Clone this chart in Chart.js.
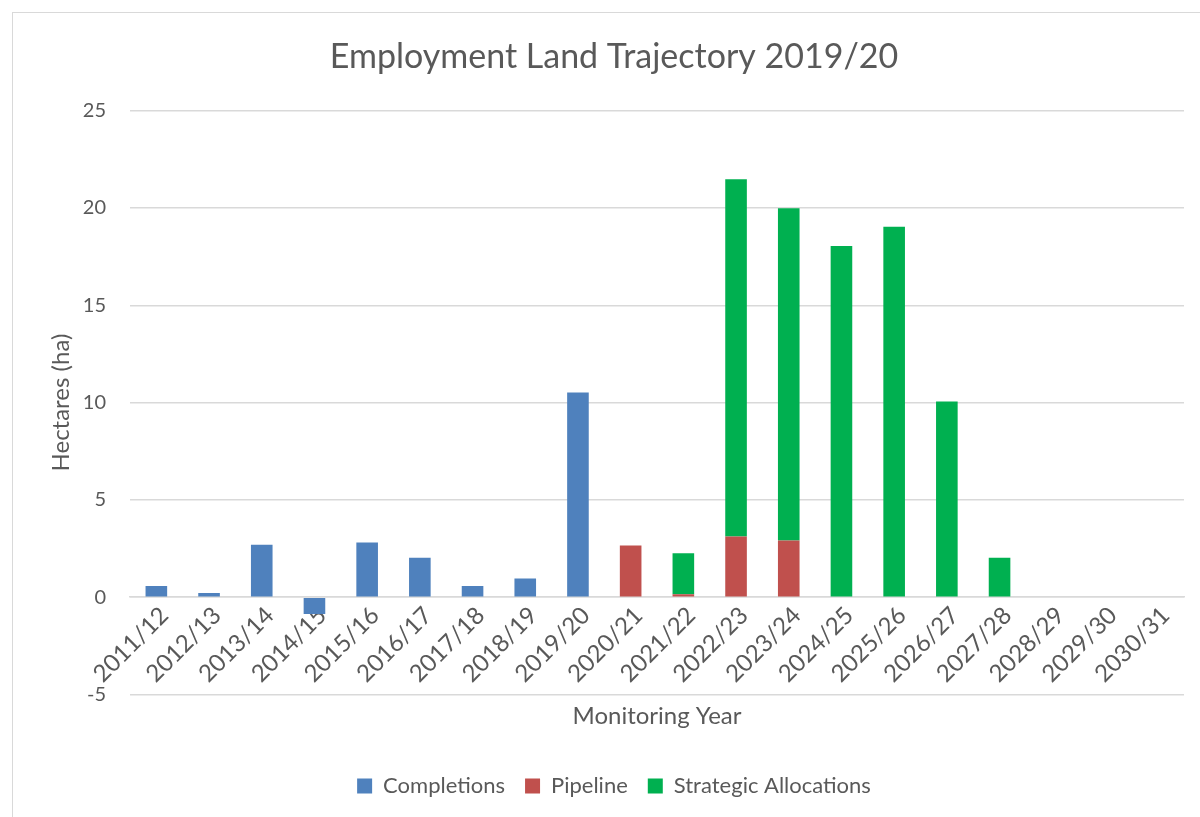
<!DOCTYPE html>
<html>
<head>
<meta charset="utf-8">
<script src="https://cdn.jsdelivr.net/npm/chart.js@4.4.1/dist/chart.umd.min.js"></script>
<style>
  html, body { margin: 0; padding: 0; background: #fff; overflow: hidden; width: 1200px; height: 817px; }
  #frame { position: absolute; left: 12px; top: 12px; width: 1204px; height: 820px; border: 1px solid #d9d9d9; background: #fff; box-sizing: border-box; }
  #wrap { position: absolute; left: 12px; top: 12px; width: 1204px; height: 815px; }
</style>
</head>
<body>
<div id="frame"></div>
<div id="wrap"><canvas id="c" width="1204" height="815"></canvas></div>
<script>
const categories = ['2011/12','2012/13','2013/14','2014/15','2015/16','2016/17','2017/18','2018/19','2019/20','2020/21','2021/22','2022/23','2023/24','2024/25','2025/26','2026/27','2027/28','2028/29','2029/30','2030/31'];
const completions = [0.57, 0.22, 2.69, -0.86, 2.81, 2.03, 0.57, 0.96, 10.52, null, null, null, null, null, null, null, null, null, null, null];
const pipeline = [null, null, null, null, null, null, null, null, null, 2.66, 0.15, 3.12, 2.92, null, null, null, null, null, null, null];
const strategicAllocations = [null, null, null, null, null, null, null, null, null, null, 2.11, 18.36, 17.07, 18.05, 19.04, 10.06, 2.03, null, null, null];
const yTicks = [-5, 0, 5, 10, 15, 20, 25];

const FONT = 'Lato, "Open Sans", sans-serif';
const TXT = '#595959';

const xTitlePlugin = {
  id: 'xTitle',
  afterDraw(chart) {
    const ctx = chart.ctx, a = chart.chartArea;
    ctx.save();
    ctx.font = '24px ' + FONT;
    ctx.fillStyle = TXT;
    ctx.textAlign = 'center';
    ctx.textBaseline = 'middle';
    ctx.fillText('Monitoring Year', (a.left + a.right) / 2, a.bottom + 22);
    ctx.restore();
  }
};

new Chart(document.getElementById('c'), {
  type: 'bar',
  data: {
    labels: categories,
    datasets: [
      { label: 'Completions', data: completions, backgroundColor: '#4f81bd' },
      { label: 'Pipeline', data: pipeline, backgroundColor: '#c0504d' },
      { label: 'Strategic Allocations', data: strategicAllocations, backgroundColor: '#00b050' }
    ]
  },
  options: {
    responsive: false,
    animation: false,
    devicePixelRatio: 1,
    layout: { padding: { left: 0, right: 0, top: 0, bottom: 20 } },
    datasets: { bar: { categoryPercentage: 1.0, barPercentage: 0.41 } },
    plugins: {
      title: {
        display: true,
        text: 'Employment Land Trajectory 2019/20',
        color: TXT,
        font: { family: FONT, size: 34, weight: 'normal' },
        padding: { top: 24.6, bottom: 33.3 }
      },
      legend: {
        position: 'bottom',
        title: {
          display: true,
          text: ' ',
          font: { family: FONT, size: 10 },
          padding: { top: 24, bottom: 24.5 }
        },
        labels: {
          color: TXT,
          font: { family: FONT, size: 22 },
          boxWidth: 15,
          boxHeight: 15,
          padding: 20
        }
      },
      tooltip: { enabled: false }
    },
    scales: {
      x: {
        stacked: true,
        position: { y: 0 },
        grid: { display: false, drawTicks: false },
        border: { display: true, color: '#d9d9d9', width: 1.5 },
        ticks: {
          color: TXT,
          font: { family: FONT, size: 24 },
          autoSkip: false,
          maxRotation: 45,
          minRotation: 45,
          padding: 4,
          labelOffset: 8
        }
      },
      y: {
        stacked: true,
        min: -5,
        max: 25,
        afterFit(scale) { scale.width = 118; },
        afterBuildTicks(scale) { scale.ticks = yTicks.map(v => ({ value: v })); },
        grid: { color: '#d9d9d9', lineWidth: 1.5, drawTicks: false },
        border: { display: false },
        ticks: {
          color: TXT,
          font: { family: FONT, size: 20 },
          padding: 24
        },
        title: {
          display: true,
          text: 'Hectares (ha)',
          color: TXT,
          font: { family: FONT, size: 24 },
          padding: { top: 35, bottom: 0 }
        }
      },
      yr: {
        type: 'linear',
        position: 'right',
        display: true,
        afterFit(scale) { scale.width = 32; },
        grid: { display: false, drawTicks: false },
        border: { display: false },
        ticks: { display: false }
      }
    }
  },
  plugins: [xTitlePlugin]
});
</script>
</body>
</html>
